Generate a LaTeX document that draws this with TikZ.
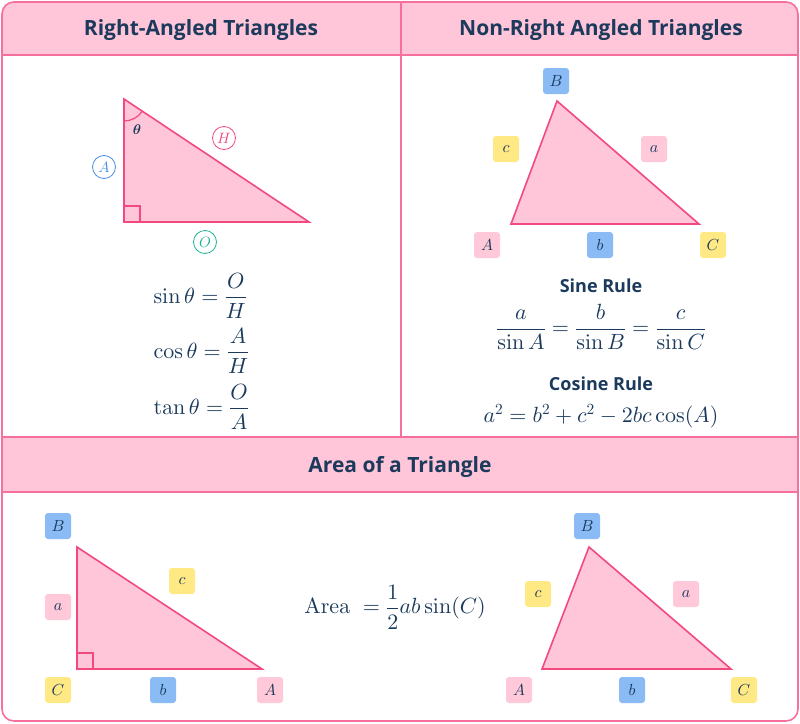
\documentclass[tikz,border=0pt]{standalone}
\usepackage{amsmath}
\usepackage{amsfonts}
\usepackage[no-math]{fontspec}
\usepackage{tikz}
\newfontfamily\headfont{Open Sans}
% scale the computer modern maths fonts from their 10pt designs
\DeclareFontShape{OT1}{cmr}{m}{n}{<->cmr10}{}
\DeclareFontShape{OML}{cmm}{m}{it}{<->cmmi10}{}
\DeclareFontShape{OML}{cmm}{b}{it}{<->cmmib10}{}
\DeclareFontShape{OMS}{cmsy}{m}{n}{<->cmsy10}{}

\definecolor{navy}{HTML}{1B3A5C}
\definecolor{framepink}{HTML}{F7709D}
\definecolor{bandpink}{HTML}{FFC5D8}
\definecolor{triline}{HTML}{F2497F}
\definecolor{bluebox}{HTML}{8ABBF5}
\definecolor{yellowbox}{HTML}{FFE985}
\definecolor{pinkbox}{HTML}{FFC9DA}
\definecolor{ringblue}{HTML}{4A90E2}
\definecolor{ringpink}{HTML}{F2497F}
\definecolor{ringgreen}{HTML}{1DB497}

\tikzset{
    heading/.style={text=navy, font=\headfont\bfseries\fontsize{21}{25}\selectfont},
    subheading/.style={text=navy, font=\headfont\bfseries\fontsize{18}{22}\selectfont},
    formula/.style={text=navy, font=\fontsize{22}{26}\selectfont},
    tri/.style={draw=triline, fill=bandpink, line width=1.6pt, line join=miter},
    sidebox/.style={minimum size=26pt, inner sep=0pt, rounded corners=3pt, text=navy, font=\fontsize{16}{18}\selectfont},
    bluebox/.style={sidebox, fill=bluebox},
    yellowbox/.style={sidebox, fill=yellowbox},
    pinkbox/.style={sidebox, fill=pinkbox},
    ring/.style={circle, draw=#1, text=#1, fill=white, line width=0.8pt, minimum size=23pt, inner sep=0pt, font=\fontsize{15}{17}\selectfont},
}

\begin{document}
\begin{tikzpicture}[x=1pt, y=-1pt]
        \useasboundingbox (0,0) rectangle (800,723);
        % Draw the header bands and the frame
        \begin{scope}
            \clip[rounded corners=12] (2,2) rectangle (798,721);
            \fill[bandpink] (2,2) rectangle (798,55);
            \fill[bandpink] (2,437) rectangle (798,492);
        \end{scope}
        \draw[framepink, line width=1.6pt] (2,55) -- (798,55);
        \draw[framepink, line width=1.6pt] (2,437) -- (798,437);
        \draw[framepink, line width=1.6pt] (2,492) -- (798,492);
        \draw[framepink, line width=1.6pt] (401,2) -- (401,437);
        \draw[framepink, line width=1.6pt, rounded corners=12] (2,2) rectangle (798,721);
        \node[heading] (headright) at (201,30) {Right-Angled Triangles};
        \node[heading] (headnonright) at (601,30) {Non-Right Angled Triangles};
        \node[heading] (headarea) at (400,467) {Area of a Triangle};

        % Draw the right-angled triangle
        \draw[tri] (124,99) -- (124,222) -- (309,222) -- cycle;
        \draw[triline, line width=1.2pt] (124,206) -- (140,206) -- (140,222);
        \draw[triline, line width=1.2pt] (124,121) arc[start angle=90, end angle=33.6, radius=22];
        \node[text=navy, font=\fontsize{14}{16}\selectfont] (theta) at (137,130) {$\boldsymbol{\theta}$};
        \node[ring=ringblue] (ringA) at (104,167) {$A$};
        \node[ring=ringpink] (ringH) at (224,138) {$H$};
        \node[ring=ringgreen] (ringO) at (205,242) {$O$};
        \node[formula, anchor=west] (sinratio) at (150,296) {$\sin\theta = \dfrac{O}{H}$};
        \node[formula, anchor=west] (cosratio) at (150,351) {$\cos\theta = \dfrac{A}{H}$};
        \node[formula, anchor=west] (tanratio) at (150,407) {$\tan\theta = \dfrac{O}{A}$};

        % Draw the non-right angled triangle
        \draw[tri] (511,224) -- (557,101) -- (699,224) -- cycle;
        \node[bluebox] (ncB) at (556,81) {$B$};
        \node[yellowbox] (ncc) at (506,149) {$c$};
        \node[pinkbox] (nca) at (654,149) {$a$};
        \node[pinkbox] (ncA) at (487,245) {$A$};
        \node[bluebox] (ncb) at (600,245) {$b$};
        \node[yellowbox] (ncC) at (713,245) {$C$};
        \node[subheading] (sinehead) at (601,286) {Sine Rule};
        \node[formula] (sinelaw) at (601,327) {$\dfrac{a}{\sin A} = \dfrac{b}{\sin B} = \dfrac{c}{\sin C}$};
        \node[subheading] (cosinehead) at (601,384) {Cosine Rule};
        \node[formula] (cosinelaw) at (601,416) {$a^2 = b^2 + c^2 - 2bc\cos(A)$};

        % Draw the area triangles
        \draw[tri] (77,547) -- (77,669) -- (262,669) -- cycle;
        \draw[triline, line width=1.2pt] (77,653) -- (93,653) -- (93,669);
        \node[bluebox] (alB) at (58,526) {$B$};
        \node[pinkbox] (ala) at (58,607) {$a$};
        \node[yellowbox] (alc) at (182,581) {$c$};
        \node[yellowbox] (alC) at (58,690) {$C$};
        \node[bluebox] (alb) at (163,690) {$b$};
        \node[pinkbox] (alA) at (270,690) {$A$};
        \node[formula] (areaformula) at (395,607) {$\mathrm{Area}\ =\dfrac{1}{2}ab\sin(C)$};
        \draw[tri] (542,669) -- (589,547) -- (731,669) -- cycle;
        \node[bluebox] (arB) at (587,526) {$B$};
        \node[yellowbox] (arc) at (538,594) {$c$};
        \node[pinkbox] (ara) at (686,594) {$a$};
        \node[pinkbox] (arA) at (519,690) {$A$};
        \node[bluebox] (arb) at (632,690) {$b$};
        \node[yellowbox] (arC) at (744,690) {$C$};
    \end{tikzpicture}
\end{document}
